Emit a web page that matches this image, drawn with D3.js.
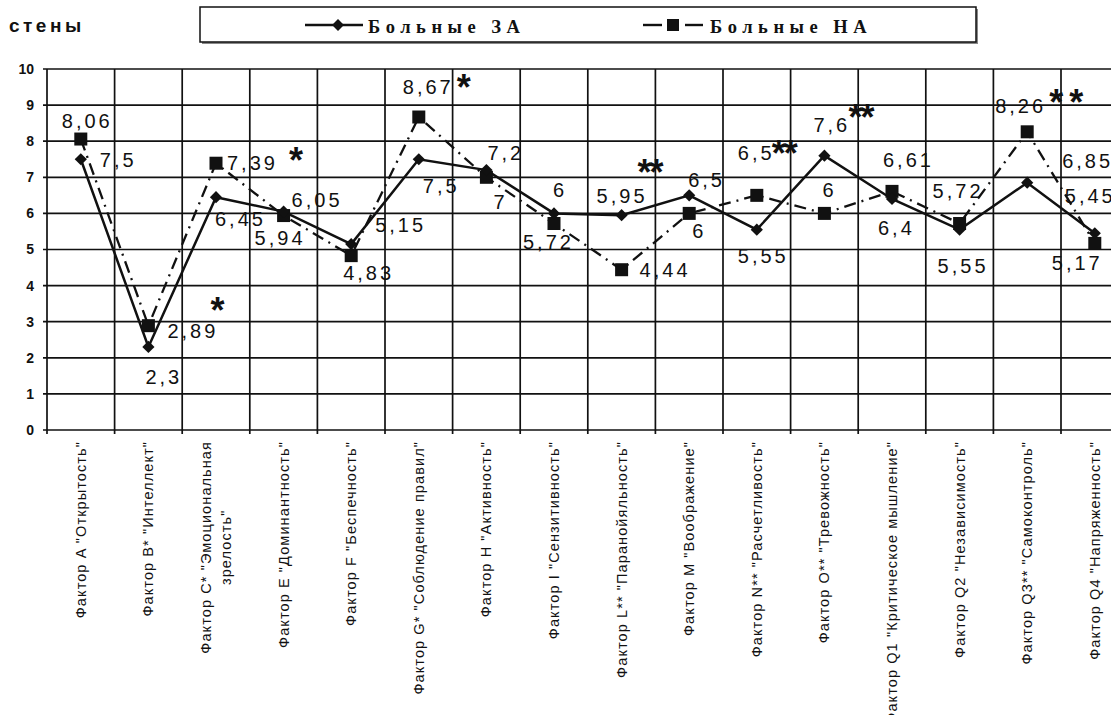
<!DOCTYPE html>
<html><head><meta charset="utf-8">
<script src="https://cdn.jsdelivr.net/npm/d3@7"></script>
<style>
html,body{margin:0;padding:0;background:#fff;}
svg{display:block;}
</style></head>
<body>
<svg id="chart" width="1111" height="715"></svg>
<script>
// ---- data ----
const categories = [
  'Фактор A "Открытость"',
  'Фактор B* "Интеллект"',
  'Фактор C* "Эмоциональная\nзрелость"',
  'Фактор E "Доминантность"',
  'Фактор F "Беспечность"',
  'Фактор G* "Соблюдение правил"',
  'Фактор H "Активность"',
  'Фактор I "Сензитивность"',
  'Фактор L** "Паранойяльность"',
  'Фактор M "Воображение"',
  'Фактор N** "Расчетливость"',
  'Фактор O** "Тревожность"',
  'Фактор Q1 "Критическое мышление"',
  'Фактор Q2 "Независимость"',
  'Фактор Q3** "Самоконтроль"',
  'Фактор Q4 "Напряженность"'
];
const seriesNames = ["Больные ЗА", "Больные НА"];
const valuesZA = [7.5, 2.3, 6.45, 6.05, 5.15, 7.5, 7.2, 6, 5.95, 6.5, 5.55, 7.6, 6.4, 5.55, 6.85, 5.45];
const valuesNA = [8.06, 2.89, 7.39, 5.94, 4.83, 8.67, 7, 5.72, 4.44, 6, 6.5, 6, 6.61, 5.72, 8.26, 5.17];
const labelsZA = ["7,5","2,3","6,45","6,05","5,15","7,5","7,2","6","5,95","6,5","5,55","7,6","6,4","5,55","6,85","5,45"];
const labelsNA = ["8,06","2,89","7,39","5,94","4,83","8,67","7","5,72","4,44","6","6,5","6","6,61","5,72","8,26","5,17"];
const yTicks = [0,1,2,3,4,5,6,7,8,9,10];
const yAxisTitle = "стены";
// significance marks (category index, text, y value position)
const sigCats = [1, 2, 5, 8, 10, 11, 14];
const sigText = ["*", "*", "*", "**", "**", "**", "* *"];
const sigY = [3.47, 7.62, 9.64, 7.28, 7.81, 8.81, 9.22];

// ---- layout (not data) ----
const offZA = [[19,8],[-3,37],[-1,29],[8,-5],[24,-12],[4,34],[1,-10],[-1,-16],[-25,-12],[-1,-8],[-19,33],[-11,-24],[-14,36],[-22,43],[35,-15],[-30,-30]];
const offNA = [[-19,-11],[19,12],[11,7],[-29,29],[-8,24],[-16,-23],[7,32],[-31,25],[18,7],[3,25],[-19,-35],[-2,-16],[-9,-24],[-27,-26],[-32,-19],[-43,27]];
const sigDx = [68, 79, 44, 28, 27, 36, 38];

const svg = d3.select("#chart");
const plotLeft = 47, bandW = 67.6, plotTop = 69, plotBottom = 430;
const x = d3.scaleBand().domain(d3.range(categories.length)).range([plotLeft, plotLeft + bandW * categories.length]).padding(0);
const y = d3.scaleLinear().domain([0, 10]).range([plotBottom, plotTop]);
const cx = i => x(i) + x.bandwidth() / 2;
const ink = "#111";

// grid horizontal
svg.append("g").selectAll("line").data(yTicks).join("line")
  .attr("x1", plotLeft - 4).attr("x2", plotLeft + bandW * categories.length)
  .attr("y1", d => y(d)).attr("y2", d => y(d))
  .attr("stroke", ink).attr("stroke-width", 1.7);
// grid vertical (band boundaries)
const bounds = d3.range(categories.length + 1).map(i => plotLeft + i * bandW);
svg.append("g").selectAll("line").data(bounds).join("line")
  .attr("x1", d => d).attr("x2", d => d)
  .attr("y1", plotTop).attr("y2", plotBottom + 4)
  .attr("stroke", ink).attr("stroke-width", 1.7);

// y axis labels
const yAxis = d3.axisLeft(y).tickValues(yTicks).tickSize(0).tickPadding(13).tickFormat(d3.format("d"));
const gy = svg.append("g").attr("transform", `translate(${plotLeft},0)`).call(yAxis);
gy.select(".domain").remove();
gy.selectAll("text").attr("font-family", "Liberation Sans, Arial, sans-serif")
  .attr("font-weight", "bold").attr("font-size", 14).attr("fill", ink);

// x labels
const xl = svg.append("g");
categories.forEach((c, i) => {
  const lines = c.split("\n");
  const t = xl.append("text")
    .attr("transform", `translate(${cx(i)},441) rotate(-90)`)
    .attr("text-anchor", "end")
    .attr("font-family", "Liberation Sans, Arial, sans-serif")
    .attr("font-size", 14.5).attr("letter-spacing", "1.1px").attr("fill", ink);
  const lh = 20.5;
  const tsp = lines.map((ln, k) => t.append("tspan").attr("x", 0)
    .attr("y", (k - (lines.length - 1) / 2) * lh).attr("dy", "0.35em").text(ln));
  if (lines.length > 1) {
    const ws = tsp.map(s => s.node().getComputedTextLength());
    const W = d3.max(ws);
    tsp.forEach((s, k) => s.attr("x", -(W - ws[k]) / 2));
  }
});

// lines
const lineGen = d3.line().x((d, i) => cx(i)).y(d => y(d));
svg.append("path").datum(valuesNA).attr("d", lineGen).attr("fill", "none")
  .attr("stroke", ink).attr("stroke-width", 2.3).attr("stroke-dasharray", "12,6,2,6");
svg.append("path").datum(valuesZA).attr("d", lineGen).attr("fill", "none")
  .attr("stroke", ink).attr("stroke-width", 2.5);

// markers
svg.append("g").selectAll("rect").data(valuesNA).join("rect")
  .attr("x", (d, i) => cx(i) - 6.5).attr("y", d => y(d) - 6.5)
  .attr("width", 13).attr("height", 13).attr("fill", ink);
const diamond = d3.symbol().type(d3.symbolDiamond2).size(95);
svg.append("g").selectAll("path").data(valuesZA).join("path")
  .attr("d", diamond).attr("transform", (d, i) => `translate(${cx(i)},${y(d)})`)
  .attr("fill", ink);

// value labels
function valueLabels(vals, labs, offs) {
  svg.append("g").selectAll("text").data(vals).join("text")
    .attr("x", (d, i) => cx(i) + offs[i][0]).attr("y", (d, i) => y(d) + offs[i][1])
    .attr("font-family", "Liberation Sans, Arial, sans-serif")
    .attr("font-size", 20).attr("letter-spacing", "3px").attr("fill", ink)
    .text((d, i) => labs[i]);
}
valueLabels(valuesNA, labelsNA, offNA);
valueLabels(valuesZA, labelsZA, offZA);

// significance stars
svg.append("g").selectAll("text").data(sigCats).join("text")
  .attr("x", (d, k) => cx(d) + sigDx[k]).attr("y", (d, k) => y(sigY[k]) + 18)
  .attr("text-anchor", "middle")
  .attr("font-family", "Liberation Sans, Arial, sans-serif").attr("font-weight", "bold")
  .attr("font-size", 36).attr("letter-spacing", "-2px").attr("fill", ink).style("white-space", "pre")
  .text((d, k) => sigText[k]);

// y title
svg.append("text").attr("x", 9).attr("y", 32)
  .attr("font-family", "Liberation Sans, Arial, sans-serif").attr("font-weight", "bold")
  .attr("font-size", 19).attr("letter-spacing", "3.5px").attr("fill", ink).text(yAxisTitle);

// legend
const lg = svg.append("g");
lg.append("rect").attr("x", 202).attr("y", 9).attr("width", 776).attr("height", 35).attr("fill", "#888");
lg.append("rect").attr("x", 200).attr("y", 7).attr("width", 776).attr("height", 35)
  .attr("fill", "#fff").attr("stroke", ink).attr("stroke-width", 1.5);
lg.append("line").attr("x1", 305).attr("x2", 363).attr("y1", 25).attr("y2", 25).attr("stroke", ink).attr("stroke-width", 2.4);
lg.append("path").attr("d", d3.symbol().type(d3.symbolDiamond2).size(90)).attr("transform", "translate(338,25)").attr("fill", ink);
lg.append("text").attr("x", 368).attr("y", 33).text(seriesNames[0]);
lg.append("line").attr("x1", 643).attr("x2", 662).attr("y1", 25).attr("y2", 25).attr("stroke", ink).attr("stroke-width", 2.4);
lg.append("line").attr("x1", 685).attr("x2", 703).attr("y1", 25).attr("y2", 25).attr("stroke", ink).attr("stroke-width", 2.4);
lg.append("rect").attr("x", 667).attr("y", 19).attr("width", 12).attr("height", 12).attr("fill", ink);
lg.append("text").attr("x", 710).attr("y", 33).text(seriesNames[1]);
lg.selectAll("text").attr("font-family", "Liberation Serif, Times New Roman, serif").attr("font-weight", "bold")
  .attr("font-size", 18.5).attr("letter-spacing", "5.5px").attr("fill", ink);
</script>
</body></html>
